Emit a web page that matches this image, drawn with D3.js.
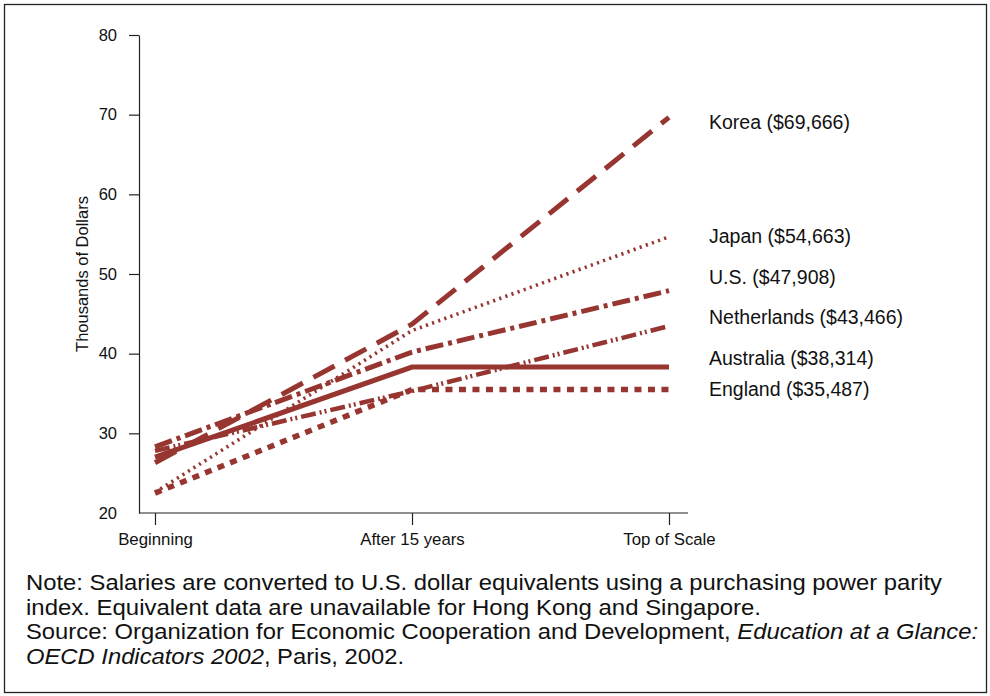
<!DOCTYPE html>
<html>
<head>
<meta charset="utf-8">
<script src="https://cdn.jsdelivr.net/npm/d3@7"></script>
<style>
  html, body { margin: 0; padding: 0; background: #fff; }
  svg { display: block; font-family: "Liberation Sans", Arial, Helvetica, sans-serif; }
</style>
</head>
<body>
<svg id="chart" width="990" height="696"></svg>
<script>
// ---------- DATA ----------
const stages = ["Beginning", "After 15 years", "Top of Scale"];
const countries = ["Korea", "Japan", "U.S.", "Netherlands", "Australia", "England"];
const topLabels = ["$69,666", "$54,663", "$47,908", "$43,466", "$38,314", "$35,487"];
const korea       = [26.3, 43.7, 69.666];
const japan       = [22.6, 42.9, 54.663];
const us          = [28.3, 40.2, 47.908];
const netherlands = [27.8, 35.3, 43.466];
const australia   = [27.0, 38.314, 38.314];
const england     = [22.5, 35.487, 35.487];
const yTicks = [20, 30, 40, 50, 60, 70, 80];
const yTitle = "Thousands of Dollars";

// ---------- STYLE ----------
const color = "#973631";
const styles = {
  "Korea":       { w: 5,   dash: "24,12" },
  "Japan":       { w: 3.6, dash: "2.2,4.3" },
  "U.S.":        { w: 5,   dash: "18,5,4,5" },
  "Netherlands": { w: 4.5, dash: "15,4,2,3,2,4" },
  "Australia":   { w: 5,   dash: null },
  "England":     { w: 5.5, dash: "7,6.5" }
};
// label vertical nudges (px) to avoid overlap
const labelDy = { "Korea": 5, "Japan": -1, "U.S.": -13, "Netherlands": -9, "Australia": -9, "England": 0 };

const seriesVals = [korea, japan, us, netherlands, australia, england];
const series = countries.map((c, i) => ({ name: c, label: topLabels[i], values: seriesVals[i] }));

const svg = d3.select("#chart");

// outer frame
svg.append("rect").attr("x", 4.5).attr("y", 4.5).attr("width", 982).attr("height", 688)
  .attr("fill", "none").attr("stroke", "#222").attr("stroke-width", 1.3);

const x = d3.scalePoint().domain(stages).range([155, 669]);
const y = d3.scaleLinear().domain([20, 80]).range([513, 35]);

const axisX0 = 139, axisX1 = 688;

// y axis
const yAxis = svg.append("g").attr("transform", `translate(${axisX0},0)`)
  .call(d3.axisLeft(y).tickValues(yTicks).tickSize(10).tickPadding(12).tickSizeOuter(0));
yAxis.select(".domain").attr("stroke", "#222").attr("stroke-width", 1.2);
yAxis.selectAll(".tick line").attr("stroke", "#222").attr("stroke-width", 1.2)
  .filter(d => d === 20).remove();
yAxis.selectAll(".tick text").attr("font-size", 16.5).attr("fill", "#111")
  .attr("font-family", "Liberation Sans, Arial, sans-serif");

// x axis
const xAxis = svg.append("g").attr("transform", `translate(0,${y(20)})`)
  .call(d3.axisBottom(x).tickSize(12).tickPadding(8).tickSizeOuter(0));
xAxis.select(".domain").attr("d", `M${axisX0},0H${axisX1}`).attr("stroke", "#222").attr("stroke-width", 1.2);
xAxis.selectAll(".tick line").attr("stroke", "#222").attr("stroke-width", 1.2);
xAxis.selectAll(".tick text").attr("font-size", 16.8).attr("fill", "#111")
  .attr("font-family", "Liberation Sans, Arial, sans-serif");

// y title
svg.append("text")
  .attr("transform", `translate(88,${y(50)}) rotate(-90)`)
  .attr("text-anchor", "middle")
  .attr("font-size", 16.5).attr("fill", "#111")
  .text(yTitle);

// lines
const line = d3.line().x((d, i) => x(stages[i])).y(d => y(d));
const drawOrder = ["England", "Australia", "Netherlands", "U.S.", "Japan", "Korea"];
drawOrder.forEach(name => {
  const s = series.find(e => e.name === name);
  const st = styles[name];
  svg.append("path")
    .datum(s.values)
    .attr("d", line)
    .attr("fill", "none")
    .attr("stroke", color)
    .attr("stroke-width", st.w)
    .attr("stroke-linecap", "butt")
    .attr("stroke-linejoin", "miter")
    .attr("stroke-dasharray", st.dash);
});

// end labels
series.forEach(s => {
  svg.append("text")
    .attr("x", 709)
    .attr("y", y(s.values[2]) + labelDy[s.name])
    .attr("dy", "0.35em")
    .attr("font-size", 19.5).attr("fill", "#111")
    .text(`${s.name} (${s.label})`);
});

// footnote
const lines = [
  { w: 916, segs: [{ t: "Note: Salaries are converted to U.S. dollar equivalents using a purchasing power parity" }] },
  { w: 735, segs: [{ t: "index. Equivalent data are unavailable for Hong Kong and Singapore." }] },
  { w: 952, segs: [{ t: "Source: Organization for Economic Cooperation and Development, " }, { t: "Education at a Glance:", i: true }] },
  { w: 378, segs: [{ t: "OECD Indicators 2002", i: true }, { t: ", Paris, 2002." }] }
];
lines.forEach((ln, li) => {
  const t = svg.append("text")
    .attr("x", 26).attr("y", 590 + li * 24.7)
    .attr("font-size", 21.5).attr("fill", "#111")
    .attr("textLength", ln.w).attr("lengthAdjust", "spacingAndGlyphs");
  ln.segs.forEach(seg => {
    const ts = t.append("tspan").text(seg.t);
    if (seg.i) ts.attr("font-style", "italic");
  });
});
</script>
</body>
</html>
